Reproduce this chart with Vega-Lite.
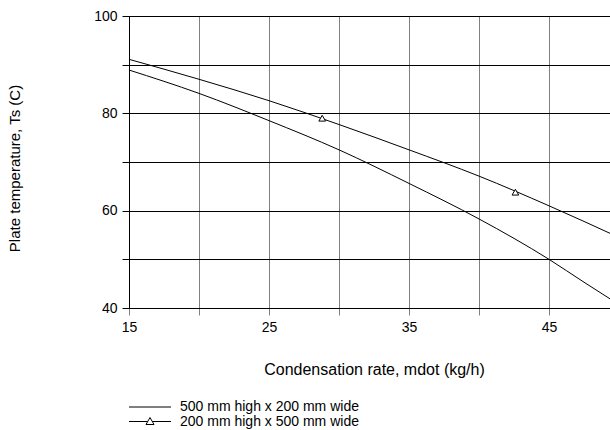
{
  "$schema": "https://vega.github.io/schema/vega-lite/v6.json",
  "width": 481,
  "height": 292,
  "autosize": {"type": "none"},
  "padding": {"left": 129, "top": 16, "right": 0, "bottom": 122},
  "background": "white",
  "config": {
    "font": "Liberation Sans",
    "view": {"stroke": "black", "strokeWidth": 1},
    "axis": {"labelFontSize": 14, "labelColor": "black", "titleFontSize": 15, "titleFontWeight": "normal", "titleColor": "black", "domainColor": "black", "domainWidth": 1}
  },
  "datasets": {
    "curves": [
      {"rate": 15, "temp": 88.9, "series": "500 mm high x 200 mm wide"},
      {"rate": 20, "temp": 84.1, "series": "500 mm high x 200 mm wide"},
      {"rate": 25, "temp": 78.5, "series": "500 mm high x 200 mm wide"},
      {"rate": 30, "temp": 72.5, "series": "500 mm high x 200 mm wide"},
      {"rate": 35, "temp": 65.6, "series": "500 mm high x 200 mm wide"},
      {"rate": 40, "temp": 58.3, "series": "500 mm high x 200 mm wide"},
      {"rate": 45, "temp": 50.0, "series": "500 mm high x 200 mm wide"},
      {"rate": 47.5, "temp": 45.3, "series": "500 mm high x 200 mm wide"},
      {"rate": 50, "temp": 40.7, "series": "500 mm high x 200 mm wide"},
      {"rate": 15, "temp": 91.1, "series": "200 mm high x 500 mm wide"},
      {"rate": 20, "temp": 87.0, "series": "200 mm high x 500 mm wide"},
      {"rate": 25, "temp": 82.6, "series": "200 mm high x 500 mm wide"},
      {"rate": 30, "temp": 77.7, "series": "200 mm high x 500 mm wide"},
      {"rate": 35, "temp": 72.5, "series": "200 mm high x 500 mm wide"},
      {"rate": 40, "temp": 67.1, "series": "200 mm high x 500 mm wide"},
      {"rate": 45, "temp": 61.0, "series": "200 mm high x 500 mm wide"},
      {"rate": 50, "temp": 54.5, "series": "200 mm high x 500 mm wide"}
    ],
    "markers": [
      {"rate": 28.8, "temp": 79.0, "series": "200 mm high x 500 mm wide"},
      {"rate": 42.6, "temp": 63.8, "series": "200 mm high x 500 mm wide"}
    ]
  },
  "layer": [
    {
      "data": {"name": "curves"},
      "mark": {"type": "line", "interpolate": "monotone", "stroke": "black", "strokeWidth": 1, "clip": true},
      "encoding": {
        "x": {
          "field": "rate", "type": "quantitative",
          "scale": {"domain": [15, 49.357], "nice": false, "zero": false},
          "axis": {
            "values": [15, 20, 25, 30, 35, 40, 45],
            "grid": true, "gridColor": "#808080", "gridWidth": 1, "gridOpacity": 1,
            "tickColor": "#808080", "tickSize": 7, "labelPadding": 5,
            "labelExpr": "datum.value % 10 == 5 ? datum.label : ''",
            "labelFlush": false,
            "title": "Condensation rate, mdot (kg/h)",
            "titleFontSize": 16,
            "titleY": 61, "titleBaseline": "middle", "titleX": 245
          }
        },
        "y": {
          "field": "temp", "type": "quantitative",
          "scale": {"domain": [40, 100], "nice": false, "zero": false},
          "axis": {
            "values": [40, 50, 60, 70, 80, 90, 100],
            "grid": true, "gridColor": "black", "gridWidth": 1, "gridOpacity": 1,
            "tickColor": "black", "tickSize": 7, "labelPadding": 5,
            "labelExpr": "datum.value % 20 == 0 ? datum.label : ''",
            "labelFlush": false,
            "title": "Plate temperature, Ts (C)",
            "titleX": -115, "titleY": 152, "titleBaseline": "middle", "titleAngle": -90
          }
        },
        "detail": {"field": "series", "type": "nominal"}
      }
    },
    {
      "data": {"name": "markers"},
      "mark": {"type": "point", "shape": "triangle-up", "filled": true, "fill": "white", "stroke": "black", "strokeWidth": 1, "size": 45, "opacity": 1},
      "encoding": {
        "x": {"field": "rate", "type": "quantitative"},
        "y": {"field": "temp", "type": "quantitative"}
      }
    },
    {
      "data": {"name": "curves"},
      "transform": [{"filter": "datum.rate > 1000"}],
      "mark": {"type": "point", "filled": false, "stroke": "black", "strokeWidth": 1, "opacity": 1},
      "encoding": {
        "x": {"field": "rate", "type": "quantitative"},
        "y": {"field": "temp", "type": "quantitative"},
        "shape": {
          "field": "series", "type": "nominal",
          "scale": {
            "domain": ["500 mm high x 200 mm wide", "200 mm high x 500 mm wide"],
            "range": ["M-4.2,0H4.2", "M-4.2,0H-0.46M0.46,0H4.2M-0.8,0.6L0,-0.8L0.8,0.6Z"]
          },
          "legend": {
            "title": null,
            "orient": "none",
            "legendX": 14,
            "legendY": 384,
            "symbolSize": 100,
            "symbolOpacity": 1,
            "symbolFillColor": "white",
            "symbolStrokeColor": "black",
            "symbolStrokeWidth": 1,
            "labelFontSize": 14,
            "labelColor": "black",
            "labelLimit": 400,
            "labelOffset": 23,
            "rowPadding": 0.5,
            "padding": 0,
            "encode": {
              "symbols": {
                "update": {
                  "stroke": {"value": "black"},
                  "fill": {"value": "white"},
                  "strokeWidth": {"value": 1},
                  "opacity": {"value": 1}
                }
              }
            }
          }
        }
      }
    }
  ]
}
